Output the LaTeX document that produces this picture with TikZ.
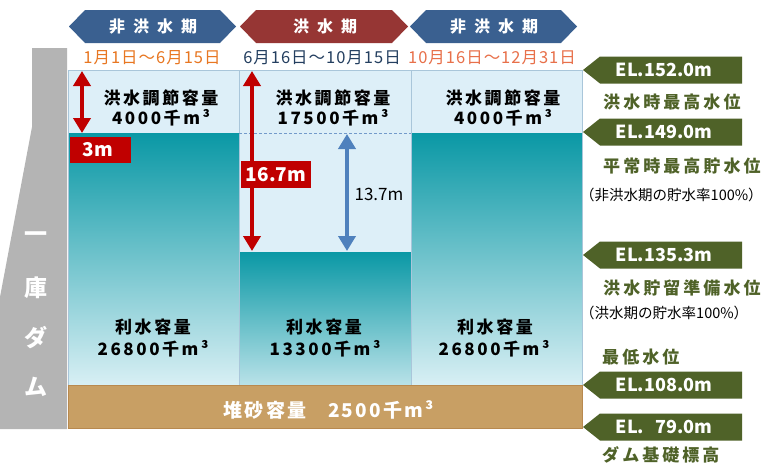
\documentclass[tikz,border=0pt]{standalone}
\usepackage{fontspec}
\setmainfont{Noto Sans CJK JP}
\usetikzlibrary{arrows.meta}
\definecolor{bannerblue}{HTML}{3A6090}
\definecolor{bannerred}{HTML}{963634}
\definecolor{lblgreen}{HTML}{4F6228}
\definecolor{floodfill}{HTML}{DDEFF8}
\definecolor{waterdark}{HTML}{0A98A5}
\definecolor{waterlight}{HTML}{D8EFF4}
\definecolor{sand}{HTML}{C89F64}
\definecolor{sandedge}{HTML}{B8894F}
\definecolor{damgray}{HTML}{B4B4B4}
\definecolor{arrowred}{HTML}{C00000}
\definecolor{arrowblue}{HTML}{4F81BD}
\definecolor{dateorange}{HTML}{E87722}
\definecolor{datesalmon}{HTML}{E8704A}
\definecolor{datenavy}{HTML}{243F60}
\definecolor{gridline}{HTML}{A9C6DA}
\newcommand{\fsz}[1]{\fontsize{#1}{#1}\selectfont}
\tikzset{
  bannertext/.style={text=white, inner sep=0, font=\bfseries\fsz{16}\addfontfeature{LetterSpace=50}},
  datetext/.style={inner sep=0, font=\fsz{16.5}\addfontfeature{LetterSpace=6}},
  coltext/.style={inner sep=0, font=\bfseries\fsz{17}\addfontfeature{LetterSpace=15}},
  sedtext/.style={inner sep=0, text=white, font=\bfseries\fsz{19}\addfontfeature{LetterSpace=12}},
  damtext/.style={inner sep=0, text=white, font=\bfseries\fsz{23}},
  eltext/.style={inner sep=0, text=white, font=\bfseries\fsz{18}},
  greentext/.style={inner sep=0, anchor=west, text=lblgreen, font=\bfseries\fsz{17}\addfontfeature{LetterSpace=18}},
  notetext/.style={inner sep=0, anchor=west, font=\fsz{14.5}},
  redarrow/.style={arrowred, line width=4pt, {Triangle[width=17pt,length=15pt]}-{Triangle[width=17pt,length=15pt]}},
  bluearrow/.style={arrowblue, line width=4pt, {Triangle[width=17pt,length=15pt]}-{Triangle[width=17pt,length=15pt]}},
  redbox/.style={fill=arrowred, inner sep=0, anchor=north west},
  boxtext/.style={inner sep=0, text=white, font=\bfseries\fsz{19}},
}
\newcommand{\banner}[6]{%
  \fill[#4] (#2,26.5) -- (#2+16,10) -- (#3-16,10) -- (#3,26.5) -- (#3-16,43) -- (#2+16,43) -- cycle;
  \node[bannertext] (#1) at (#6,26.5) {#5};}
\newcommand{\ellabel}[3]{%
  \fill[lblgreen] (583,#2) -- (600,#2-13.5) -- (742,#2-13.5) -- (742,#2+13.5) -- (600,#2+13.5) -- cycle;
  \node[eltext] (#1) at (664,#2) {#3};}
\begin{document}
\begin{tikzpicture}[x=1pt,y=-1pt]
\useasboundingbox (0,0) rectangle (767,464);
\fill[white] (0,0) rectangle (767,464);
% dam
\fill[damgray] (32,48) -- (67,48) -- (67,429) -- (0,429) -- (0,297) -- (32,127) -- cycle;
\node[damtext] (d1) at (36,237) {一};
\node[damtext] (d2) at (36,288) {庫};
\node[damtext] (d3) at (36,338) {ダ};
\node[damtext] (d4) at (36,387) {ム};
% banners
\banner{b1}{69}{236}{bannerblue}{非洪水期}{153}
\banner{b2}{240}{408}{bannerred}{洪水期}{325}
\banner{b3}{410}{577}{bannerblue}{非洪水期}{494}
\node[datetext, text=dateorange] (t1) at (152,58) {1月1日～6月15日};
\node[datetext, text=datenavy] (t2) at (322,58) {6月16日～10月15日};
\node[datetext, text=datesalmon] (t3) at (492,58) {10月16日～12月31日};
% columns
\fill[floodfill] (68,70) rectangle (239,133);
\shade[top color=waterdark, bottom color=waterlight] (68,133) rectangle (239,385);
\fill[floodfill] (239,70) rectangle (411,252);
\shade[top color=waterdark, bottom color=waterlight!85!waterdark] (239,252) rectangle (411,385);
\fill[floodfill] (411,70) rectangle (582,133);
\shade[top color=waterdark, bottom color=waterlight] (411,133) rectangle (582,385);
\draw[gridline, line width=0.8pt] (68,70) rectangle (582,385);
\draw[gridline, line width=0.8pt] (239,70) -- (239,385) (411,70) -- (411,385);
\draw[arrowblue!80, line width=0.8pt, dash pattern=on 3pt off 2pt] (239,133) -- (411,133);
% sediment
\draw[fill=sand, draw=sandedge, line width=1pt] (68,385) rectangle (582,428);
\node[sedtext] (s1) at (265,410) {堆砂容量};
\node[sedtext] (s2) at (381,410) {2500千m³};
% column texts
\node[coltext] (c1a) at (161,98) {洪水調節容量};
\node[coltext] (c1b) at (161,118) {4000千m³};
\node[coltext] (c2a) at (333,98) {洪水調節容量};
\node[coltext] (c2b) at (333,118) {17500千m³};
\node[coltext] (c3a) at (503,98) {洪水調節容量};
\node[coltext] (c3b) at (503,118) {4000千m³};
\node[coltext] (w1a) at (153,327) {利水容量};
\node[coltext] (w1b) at (153,349) {26800千m³};
\node[coltext] (w2a) at (324,327) {利水容量};
\node[coltext] (w2b) at (325,349) {13300千m³};
\node[coltext] (w3a) at (495,327) {利水容量};
\node[coltext] (w3b) at (494,349) {26800千m³};
% arrows
\coordinate (r1t) at (82,71);
\coordinate (r1b) at (82,133);
\draw[redarrow] (r1t) -- (r1b);
\node[redbox, minimum width=61pt, minimum height=26pt] (m3box) at (70,137) {};
\node[boxtext] (m3) at (98,150) {3m};
\coordinate (r2t) at (252,71);
\coordinate (r2b) at (252,251);
\draw[redarrow] (r2t) -- (r2b);
\node[redbox, minimum width=70pt, minimum height=27pt] (m16box) at (241,161) {};
\node[boxtext] (m16) at (276,174.5) {16.7m};
\coordinate (btop) at (347,134);
\coordinate (bbot) at (347,251);
\draw[bluearrow] (btop) -- (bbot);
\node[inner sep=0, font=\fsz{17}] (m13) at (379,194) {13.7m};
% right labels
\ellabel{e152}{70}{EL.152.0m}
\node[greentext] (g1) at (603,102) {洪水時最高水位};
\ellabel{e149}{132}{EL.149.0m}
\node[greentext] (g2) at (603,166) {平常時最高貯水位};
\node[notetext] (n1) at (580,195) {（非洪水期の貯水率100\%）};
\ellabel{e135}{255}{EL.135.3m}
\node[greentext] (g3) at (603,288) {洪水貯留準備水位};
\node[notetext] (n2) at (580,313) {（洪水期の貯水率100\%）};
\node[greentext] (g4) at (602,357) {最低水位};
\ellabel{e108}{385}{EL.108.0m}
\ellabel{e79}{427}{EL.\phantom{1}79.0m}
\node[greentext] (g5) at (602,455) {ダム基礎標高};
\end{tikzpicture}
\end{document}
